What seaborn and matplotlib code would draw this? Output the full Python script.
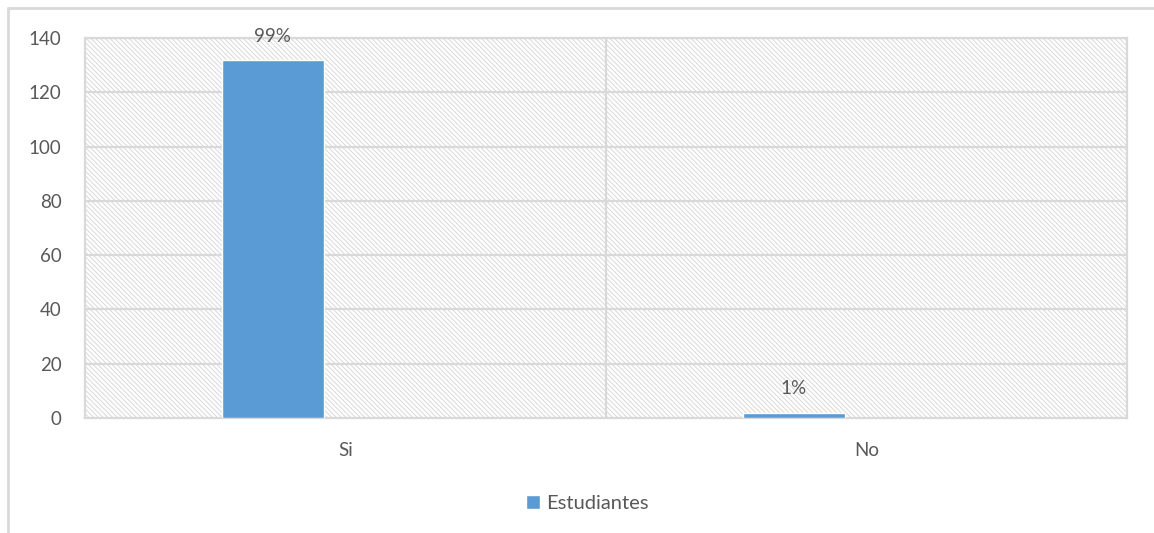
import matplotlib
matplotlib.use("Agg")
import matplotlib.pyplot as plt
from matplotlib.patches import Rectangle
from matplotlib.lines import Line2D
import seaborn as sns
import pandas as pd

categories = ["Si", "No"]
estudiantes = [132, 2]
porcentajes = ["99%", "1%"]
y_ticks = [0, 20, 40, 60, 80, 100, 120, 140]

sns.set_theme(style="white")
plt.rcParams["font.family"] = ["Lato", "DejaVu Sans"]
plt.rcParams["hatch.color"] = "#d6d6d6"
plt.rcParams["hatch.linewidth"] = 0.7

BAR_COLOR = "#5B9BD5"
GRID = "#d9d9d9"
TEXT = "#595959"

df = pd.DataFrame({"categoria": categories, "valor": estudiantes})

fig = plt.figure(figsize=(11.54, 5.33), dpi=100)
ax = fig.add_axes([0.0737, 0.2158, 0.9029, 0.7129])

# hatched plot-area background
ax.add_patch(Rectangle((0, 0), 1, 1, transform=ax.transAxes, facecolor="white",
                       edgecolor=GRID, hatch="\\" * 7, linewidth=0, zorder=0))

sns.barplot(data=df, x="categoria", y="valor", color=BAR_COLOR, width=0.196,
            saturation=1, ax=ax, zorder=3)

# bars sit left of the category centre
bars = [p for p in ax.patches if p.get_width() < 0.5 and p.get_height() > 0]
for p in bars:
    p.set_x(p.get_x() - 0.14)

ax.set_xlim(-0.5, 1.5)
ax.set_ylim(0, 140)
ax.set_yticks(y_ticks)
ax.set_xlabel("")
ax.set_ylabel("")

for y in y_ticks[1:]:
    ax.axhline(y, color=GRID, linewidth=1.6, zorder=1)
ax.axvline(0.5, color=GRID, linewidth=1.6, zorder=1)

for s in ax.spines.values():
    s.set_color(GRID)
    s.set_linewidth(1.6)

ax.tick_params(axis="both", length=0, labelsize=13.5, labelcolor=TEXT)
ax.tick_params(axis="x", pad=17)
ax.tick_params(axis="y", pad=17)

for p, txt in zip(bars, porcentajes):
    ax.annotate(txt, (p.get_x() + p.get_width() / 2, p.get_height()),
                xytext=(0, 17), textcoords="offset points", ha="center",
                va="center", fontsize=13.5, color=TEXT, zorder=5,
                annotation_clip=False)

fig.legend(handles=[Rectangle((0, 0), 1, 1, facecolor=BAR_COLOR)],
           labels=["Estudiantes"], loc="center", bbox_to_anchor=(0.509, 0.056),
           frameon=False, fontsize=14.5, handlelength=0.7, handleheight=0.7,
           handletextpad=0.3, labelcolor=TEXT)

# chart frame
fig.add_artist(Line2D([8 / 1154, 1.0], [1 - 8 / 533, 1 - 8 / 533],
                      color=GRID, linewidth=2, transform=fig.transFigure))
fig.add_artist(Line2D([8 / 1154, 8 / 1154], [1 - 8 / 533, 0.0],
                      color=GRID, linewidth=2, transform=fig.transFigure))

fig.savefig("out.png", dpi=100, facecolor="white")
